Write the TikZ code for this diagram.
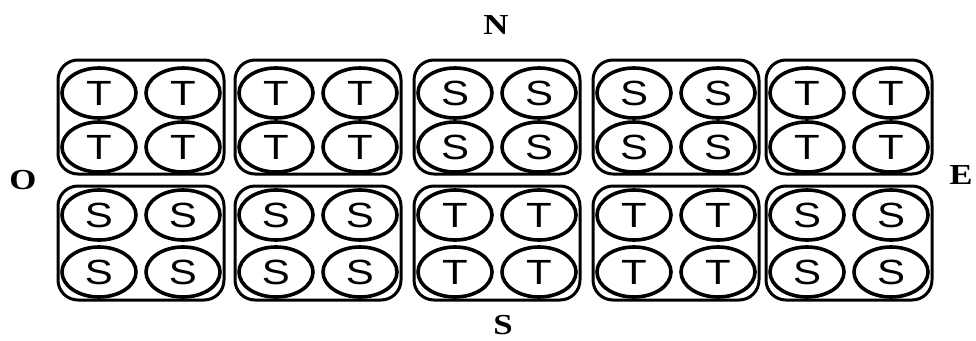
\documentclass[tikz,border=0pt]{standalone}
\usepackage{fontspec}
\setmainfont{Liberation Serif}
\newfontfamily\polefont{Liberation Sans}
\usetikzlibrary{shapes.geometric}
\newcommand{\widetext}[1]{\scalebox{1.2}[1]{#1}}
\begin{document}
\begin{tikzpicture}[x=1pt,y=-1pt,
  cell/.style={draw, line width=3pt, rounded corners=20pt,
    minimum width=166pt, minimum height=114pt, inner sep=0pt},
  pole/.style={draw, ellipse, line width=3.6pt, minimum width=74pt,
    minimum height=50pt, inner sep=0pt,
    font=\polefont\fontsize{35}{35}\selectfont},
  compass/.style={inner sep=0pt, font=\bfseries\fontsize{29}{29}\selectfont}]
\useasboundingbox (0,0) rectangle (976,340);
% two rows of magnet cells, four poles in each
\foreach \i/\x/\a/\b in {1/141/T/S, 2/318/T/S, 3/497/S/T, 4/676/S/T, 5/849/T/S} {
  \node[cell] (up\i) at (\x,117) {};
  \node[pole] (up\i a) at (\x-42,93)  {\widetext{\a}};
  \node[pole] (up\i b) at (\x+42,93)  {\widetext{\a}};
  \node[pole] (up\i c) at (\x-42,147) {\widetext{\a}};
  \node[pole] (up\i d) at (\x+42,147) {\widetext{\a}};
  \node[cell] (dn\i) at (\x,243) {};
  \node[pole] (dn\i a) at (\x-42,215) {\widetext{\b}};
  \node[pole] (dn\i b) at (\x+42,215) {\widetext{\b}};
  \node[pole] (dn\i c) at (\x-42,272) {\widetext{\b}};
  \node[pole] (dn\i d) at (\x+42,272) {\widetext{\b}};
}
% compass points
\node[compass] (north) at (496,25)  {\widetext{N}};
\node[compass] (south) at (503,325) {\widetext{S}};
\node[compass] (west)  at (23,180)  {\widetext{O}};
\node[compass] (east)  at (961,175) {\widetext{E}};
\end{tikzpicture}
\end{document}
